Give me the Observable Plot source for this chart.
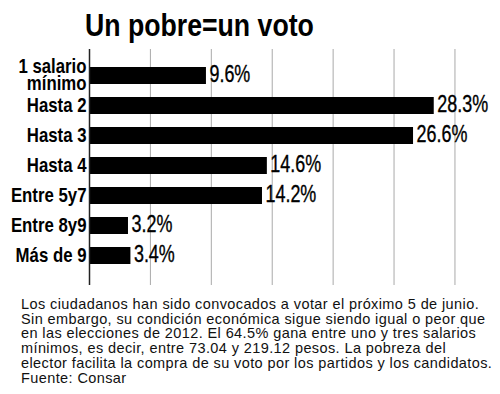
<!DOCTYPE html>
<html>
<head>
<meta charset="utf-8">
<script src="https://cdn.jsdelivr.net/npm/d3@7"></script>
<script src="https://cdn.jsdelivr.net/npm/@observablehq/plot@0.6"></script>
<style>
  html, body { margin: 0; padding: 0; background: #fff; width: 500px; height: 394px; overflow: hidden; }
  #title { height: 44px; line-height: 52px; padding-left: 85px; font-family: "Liberation Sans", Arial, sans-serif; font-weight: bold; font-size: 31px; color: #000; white-space: nowrap; }
  #title span { display: inline-block; transform: scaleX(0.86); transform-origin: 0 50%; }
  #chart { height: 242px; }
  #caption { margin-top: 11px; padding-left: 21px; font-family: "Liberation Sans", Arial, sans-serif; font-size: 14.5px; letter-spacing: 0.4px; line-height: 14.7px; color: #111; white-space: nowrap; }
</style>
</head>
<body>
<div id="title"><span>Un pobre=un voto</span></div>
<div id="chart"></div>
<div id="caption">Los ciudadanos han sido convocados a votar el próximo 5 de junio.<br>Sin embargo, su condición económica sigue siendo igual o peor que<br>en las elecciones de 2012. El 64.5% gana entre uno y tres salarios<br>mínimos, es decir, entre 73.04 y 219.12 pesos. La pobreza del<br>elector facilita la compra de su voto por los partidos y los candidatos.<br>Fuente: Consar</div>
<script>
const categories = ["1 salario\nmínimo", "Hasta 2", "Hasta 3", "Hasta 4", "Entre 5y7", "Entre 8y9", "Más de 9"];
const values = [9.6, 28.3, 26.6, 14.6, 14.2, 3.2, 3.4];
const valueLabels = ["9.6%", "28.3%", "26.6%", "14.6%", "14.2%", "3.2%", "3.4%"];
const gridTicks = [5, 10, 15, 20, 25, 30];

const data = categories.map((c, i) => ({cat: c, value: values[i], label: valueLabels[i]}));
const font = "'Liberation Sans', Arial, sans-serif";

const plot = Plot.plot({
  width: 500,
  height: 242,
  marginLeft: 89,
  marginRight: 9,
  marginTop: 5,
  marginBottom: 1,
  x: {domain: [0, 33], axis: null},
  y: {domain: categories, axis: null, padding: 0.42, insetTop: 3, insetBottom: 5},
  marks: [
    Plot.ruleX(gridTicks, {stroke: "#aaa", strokeWidth: 1}),
    Plot.barX(data, {x: "value", y: "cat", fill: "#000"}),
    Plot.ruleX([0], {stroke: "#222", strokeWidth: 1.5}),
    Plot.text(data, {x: "value", y: "cat", text: "label", textAnchor: "start", dx: 3, dy: -1, fontSize: 23, fontFamily: font, fill: "#000", stroke: "#000", strokeWidth: 0.35}),
    Plot.text(data, {x: 0, y: "cat", text: "cat", textAnchor: "end", dx: -3, fontSize: 20, fontWeight: "bold", fontFamily: font, lineHeight: 0.86, fill: "#000"})
  ]
});
document.getElementById("chart").appendChild(plot);

// condense the text horizontally (no condensed font installed)
const groups = d3.select(plot).selectAll("g[aria-label='text']").nodes();
const scales = [0.78, 0.84];
groups.forEach((g, gi) => {
  d3.select(g).selectAll("text").each(function() {
    const t = this.getAttribute("transform") || "";
    this.setAttribute("transform", t + ` scale(${scales[gi]},1)`);
  });
});
</script>
</body>
</html>
